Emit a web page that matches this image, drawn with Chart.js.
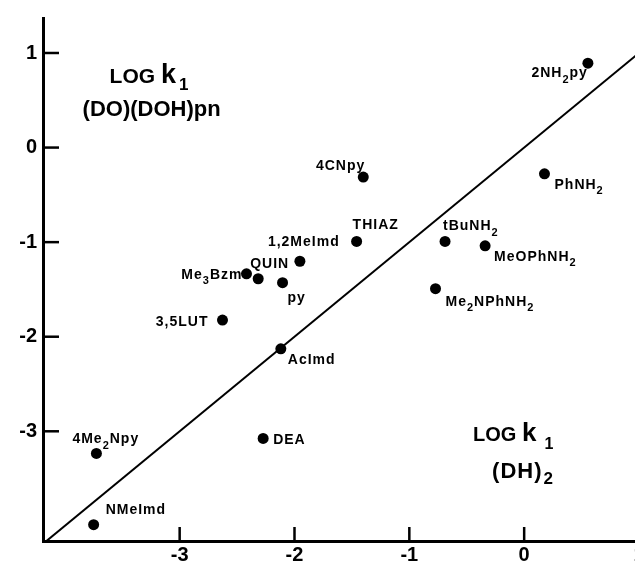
<!DOCTYPE html>
<html><head><meta charset="utf-8">
<script src="https://cdn.jsdelivr.net/npm/chart.js@4.4.0/dist/chart.umd.min.js"></script>
<style>
html,body{margin:0;padding:0;background:#fff;overflow:hidden;width:635px;height:564px;}
#wrap{position:relative;width:650px;height:564px;}
canvas{display:block;}
</style></head><body>
<div id="wrap"><canvas id="c" width="650" height="564"></canvas></div>
<script>
// ---- data ----
const compounds = ['2NH_2py','PhNH_2','4CNpy','THIAZ','tBuNH_2','MeOPhNH_2','Me_2NPhNH_2','1,2MeImd','QUIN','Me_3Bzm','py','3,5LUT','AcImd','DEA','4Me_2Npy','NMeImd'];
const logK1_DH2      = [0.555, 0.177, -1.401, -1.459, -0.689, -0.340, -0.772, -1.953, -2.316, -2.418, -2.104, -2.627, -2.119, -2.273, -3.725, -3.749];
const logK1_DODOHpn  = [0.892, -0.277, -0.312, -0.993, -0.993, -1.039, -1.492, -1.202, -1.387, -1.335, -1.429, -1.824, -2.128, -3.076, -3.234, -3.987];
const identityLineX  = [-4.19, 1];
const xTickValues = [-3, -2, -1, 0, 1];
const yTickValues = [1, 0, -1, -2, -3];

// ---- label placement (align, dx, dy relative to point) ----
const labelPlacement = {
  '2NH_2py':    ['right', -1, 9],
  'PhNH_2':     ['left', 10, 10],
  '4CNpy':      ['right', 1, -12],
  'THIAZ':      ['left', -4, -17],
  'tBuNH_2':    ['left', -2, -16],
  'MeOPhNH_2':  ['left', 9, 10],
  'Me_2NPhNH_2':['left', 10, 12],
  '1,2MeImd':   ['left', -32, -20],
  'QUIN':       ['left', -8, -16],
  'Me_3Bzm':    ['right', -5, 0],
  'py':         ['left', 5, 14],
  '3,5LUT':     ['right', -15, 1],
  'AcImd':      ['left', 7, 10],
  'DEA':        ['left', 10, 1],
  '4Me_2Npy':   ['left', -24, -15],
  'NMeImd':     ['left', 12, -16]
};

const FONT = '"Liberation Sans", Arial, sans-serif';

function drawLabel(ctx, text, x, y, align, size, spacing) {
  const segs = [];
  for (let i = 0; i < text.length; i++) {
    if (text[i] === '_') { segs.push({c: text[i+1], sub: true}); i++; }
    else segs.push({c: text[i], sub: false});
  }
  const sub = Math.round(size * 0.75);
  let w = 0;
  segs.forEach(s => { ctx.font = `bold ${s.sub ? sub : size}px ${FONT}`; s.w = ctx.measureText(s.c).width; w += s.w + spacing; });
  w -= spacing;
  let cx = align === 'right' ? x - w : x;
  const base = y + size * 0.358;
  ctx.textAlign = 'left'; ctx.textBaseline = 'alphabetic';
  segs.forEach(s => {
    ctx.font = `bold ${s.sub ? sub : size}px ${FONT}`;
    ctx.fillText(s.c, cx, s.sub ? base + size * 0.38 : base);
    cx += s.w + spacing;
  });
}

function drawRich(ctx, x, y, parts) {
  let cx = x;
  ctx.textAlign = 'left'; ctx.textBaseline = 'alphabetic';
  parts.forEach(p => {
    ctx.font = `bold ${p.s}px ${FONT}`;
    cx += (p.gap || 0);
    for (const ch of p.t) {
      ctx.fillText(ch, cx, y + (p.dy || 0));
      cx += ctx.measureText(ch).width + (p.sp || 0);
    }
  });
}

// annotation anchors in data units
const annotations = [
  {x: -3.61, y: 0.686, parts: [{t:'LOG ', s:21}, {t:'k', s:27}, {t:'1', s:17, dy:7, gap:3}]},
  {x: -3.845, y: 0.33, parts: [{t:'(DO)(DOH)pn', s:22}]},
  {x: -0.445, y: -3.105, parts: [{t:'LOG ', s:20}, {t:'k', s:26}, {t:'1', s:16, dy:8, gap:8}]},
  {x: -0.279, y: -3.49, parts: [{t:'(DH)', s:22, sp:1}, {t:'2', s:17, dy:6, gap:1}]}
];

const decor = {
  id: 'decor',
  afterDatasetsDraw(chart) {
    const {ctx, chartArea: a, scales: {x, y}} = chart;
    ctx.save();
    ctx.strokeStyle = '#000'; ctx.lineWidth = 2.5; ctx.lineCap = 'butt';
    x.ticks.forEach(t => { const px = x.getPixelForValue(t.value); ctx.beginPath(); ctx.moveTo(px, a.bottom); ctx.lineTo(px, a.bottom - 14); ctx.stroke(); });
    y.ticks.forEach(t => { const py = y.getPixelForValue(t.value); ctx.beginPath(); ctx.moveTo(a.left, py); ctx.lineTo(a.left + 16, py); ctx.stroke(); });
    ctx.fillStyle = '#000';
    compounds.forEach((name, i) => {
      const [al, dx, dy] = labelPlacement[name];
      const px = x.getPixelForValue(logK1_DH2[i]);
      const py = y.getPixelForValue(logK1_DODOHpn[i]);
      drawLabel(ctx, name, px + dx, py + dy, al, 14, 1);
    });
    annotations.forEach(an => drawRich(ctx, x.getPixelForValue(an.x), y.getPixelForValue(an.y), an.parts));
    ctx.restore();
  }
};

const tickFont = {family: '"Liberation Sans Narrow", "Liberation Sans", Arial, sans-serif', size: 20, weight: 'bold'};

new Chart(document.getElementById('c'), {
  data: {
    datasets: [
      {type: 'line', data: identityLineX.map(v => ({x: v, y: v})), borderColor: '#000', borderWidth: 2, pointRadius: 0, fill: false},
      {type: 'scatter', data: logK1_DH2.map((v, i) => ({x: v, y: logK1_DODOHpn[i]})), backgroundColor: '#000', borderColor: '#000', pointRadius: 5.5, pointBorderWidth: 0}
    ]
  },
  options: {
    responsive: false, animation: false, devicePixelRatio: 1,
    layout: {padding: {top: 13, right: 11, left: 0, bottom: 0}},
    plugins: {legend: {display: false}, tooltip: {enabled: false}},
    scales: {
      x: {
        type: 'linear', min: -4.19, max: 1,
        afterBuildTicks: s => { s.ticks = xTickValues.map(v => ({value: v})); },
        afterFit: s => { s.height = 23; },
        grid: {display: false, drawTicks: false, tickLength: 0},
        border: {display: true, color: '#000', width: 3},
        ticks: {color: '#000', font: tickFont, padding: 2, maxRotation: 0, autoSkip: false}
      },
      y: {
        type: 'linear', min: -4.16, max: 1.37,
        afterBuildTicks: s => { s.ticks = yTickValues.map(v => ({value: v})); },
        afterFit: s => { s.width = 43; },
        grid: {display: false, drawTicks: false, tickLength: 0},
        border: {display: true, color: '#000', width: 3},
        ticks: {color: '#000', font: tickFont, padding: 6, autoSkip: false}
      }
    }
  },
  plugins: [decor]
});
</script>
</body></html>
